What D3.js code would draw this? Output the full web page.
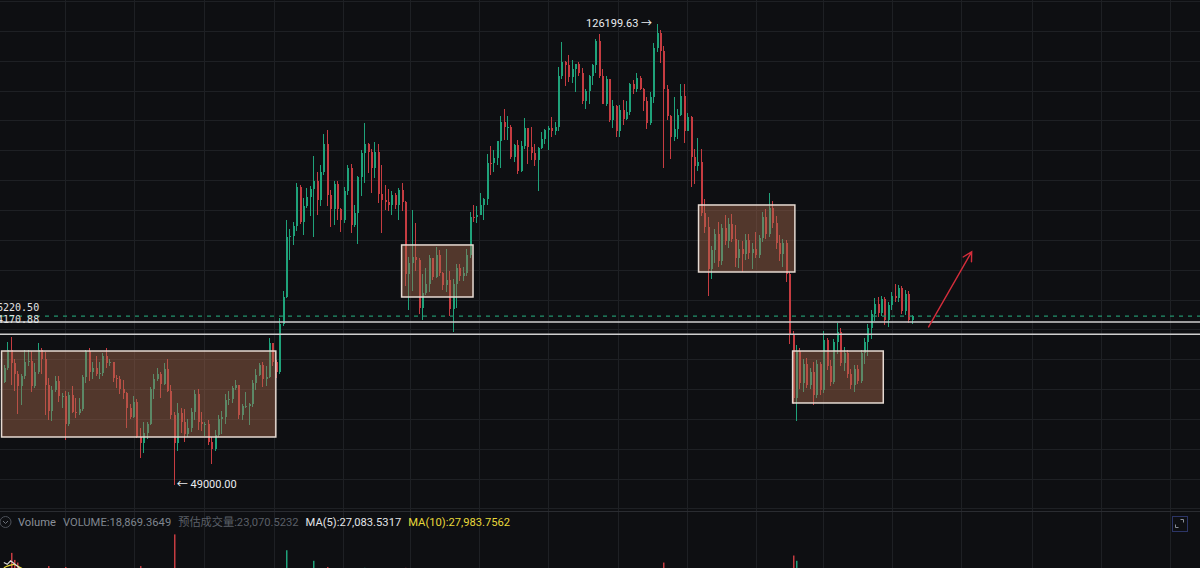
<!DOCTYPE html>
<html><head><meta charset="utf-8">
<script src="https://cdn.jsdelivr.net/npm/d3@7"></script>
<style>html,body{margin:0;padding:0;background:#0e0f12;overflow:hidden}</style>
</head><body><svg id="c" width="1200" height="568"></svg>
<script>
// ---------- DATA (prices in thousand USD, 3-day candles) ----------
const startDate = "2024-03-07";
const periodDays = 3;
const firstOpen = 66.1;
const closes = [
68.5,71.5,69.4,67.6,65.5,67.2,69.5,69.7,65.5,67.8,
71.6,70.0,65.7,61.3,64.9,66.4,63.8,63.9,59.1,64.0,
61.2,61.0,61.6,67.0,71.4,67.9,68.5,67.6,67.7,70.6,
69.3,69.5,66.8,66.7,65.0,64.3,61.8,60.3,62.9,57.0,
55.9,57.7,59.2,65.0,66.7,67.6,65.8,68.3,64.6,60.7,
56.0,60.9,59.4,57.5,58.4,61.2,64.2,59.5,59.1,59.1,
56.2,54.9,57.3,60.0,60.3,63.2,63.3,65.2,65.6,60.6,
62.1,62.1,62.5,66.0,67.4,69.0,66.7,67.0,72.7,69.5,
67.8,75.9,80.4,90.5,90.6,92.3,98.9,93.0,95.6,97.2,
98.6,99.9,96.6,101.4,106.1,97.5,95.1,99.4,95.2,93.4,
98.1,102.1,92.5,94.5,100.5,104.5,106.1,104.7,102.1,104.7,
97.7,96.6,96.4,95.8,97.5,95.8,98.3,96.3,84.3,86.1,
87.2,86.7,78.5,81.1,82.6,86.9,83.8,87.4,84.4,82.5,
83.2,78.4,82.6,85.3,84.0,84.5,87.5,93.9,93.8,94.2,
95.9,96.8,102.9,102.8,103.7,106.5,109.7,108.9,108.9,103.9,
105.9,101.6,105.8,108.7,105.5,104.6,103.3,105.4,106.9,108.4,
108.8,108.2,108.9,117.5,119.8,119.3,117.3,118.6,119.4,117.9,
113.3,115.0,117.5,119.3,123.3,117.4,112.8,116.9,110.1,112.5,
108.2,111.7,110.2,111.5,116.1,115.3,117.1,115.2,113.3,109.6,
114.0,122.2,124.7,121.7,115.2,110.7,107.2,108.5,111.0,114.1,
108.3,110.6,103.9,102.3,103.0,94.5,92.2,85.1,88.3,90.9,
86.4,92.0,89.8,92.6,90.2,86.9,88.5,87.6,89.9,87.8,
88.4,87.5,90.3,93.8,91.0,95.4,92.9,89.4,87.6,89.5,
84.2,74.0,63.5,71.4,66.0,69.2,65.6,67.9,64.0,69.2,
64.8,73.2,68.8,66.2,72.8,74.6,69.4,71.0,67.5,65.6,
68.4,66.4,71.0,72.9,75.2,77.6,79.3,77.8,80.1,76.6,
79.0,80.6,80.2,82.0,78.0,81.0,76.6,77.2];
const highs = [
69.0,72.9,73.8,70.0,68.1,67.6,71.5,71.6,71.4,69.3,
72.7,71.8,71.2,66.9,65.5,67.2,67.1,64.4,64.7,64.5,
65.5,63.5,63.5,67.4,71.5,71.9,69.5,70.6,69.5,71.0,
71.9,70.0,69.6,67.3,67.2,66.5,64.5,62.5,63.8,63.3,
58.5,59.4,59.5,65.4,67.5,68.5,67.8,69.4,70.1,65.6,
61.1,62.7,61.8,61.6,60.0,61.8,64.9,65.0,61.2,59.5,
59.8,56.9,58.1,60.6,61.3,64.1,64.7,65.5,66.5,65.6,
62.5,64.5,62.6,66.5,68.4,69.4,69.5,68.8,73.6,72.7,
69.9,76.9,81.5,93.3,91.8,93.0,99.6,99.2,97.0,98.7,
99.0,104.0,101.4,102.5,107.8,108.4,98.4,99.9,99.9,95.4,
98.9,102.5,102.7,95.8,100.7,105.0,109.6,106.3,105.3,106.4,
106.0,102.5,99.2,98.5,98.1,97.9,98.7,99.5,96.5,87.1,
95.0,92.8,86.9,84.3,85.3,87.4,87.0,88.8,88.3,84.6,
88.5,84.7,83.5,85.9,86.0,85.5,88.5,94.7,95.8,95.6,
97.9,97.0,104.3,105.8,105.0,106.6,110.8,112.0,110.7,109.3,
106.0,106.8,106.5,110.4,108.8,108.9,106.0,105.6,108.1,108.5,
109.0,110.5,109.7,118.9,123.2,120.0,120.9,120.2,119.5,119.8,
118.8,115.3,117.7,119.4,123.7,124.5,118.6,117.4,117.0,113.5,
112.6,112.6,113.4,113.3,116.3,116.8,117.9,117.5,115.4,113.9,
114.8,122.9,126.19963,125.1,122.5,116.0,111.0,114.0,111.9,116.1,
116.1,111.2,110.8,105.3,107.0,105.3,96.8,93.8,89.0,91.8,
93.0,92.6,94.1,93.6,94.3,92.5,90.0,89.8,90.9,91.0,
89.4,91.3,90.8,94.6,95.2,97.8,96.5,94.0,90.8,90.2,
90.0,84.6,74.8,72.3,71.8,70.0,70.2,68.6,69.6,69.9,
69.5,74.7,73.6,69.8,73.4,76.0,75.2,72.0,71.5,68.3,
69.0,69.1,71.6,73.6,75.9,78.2,80.2,80.5,80.6,80.5,
79.5,81.2,82.6,82.5,82.2,81.6,81.4,77.4];
const lows = [
66.0,68.2,65.6,64.6,60.8,62.3,66.6,68.9,64.5,65.1,
67.5,67.5,60.7,59.8,59.6,64.5,62.8,61.8,56.5,58.8,
60.9,60.2,60.7,61.3,66.0,66.3,66.6,67.1,66.7,67.2,
68.5,68.9,66.1,65.1,64.1,63.4,58.4,60.0,60.2,56.8,
53.5,54.3,56.6,59.0,63.3,66.4,63.5,65.7,64.5,59.9,
49.0,54.6,57.6,56.1,57.0,57.8,59.8,58.1,57.9,57.2,
55.6,52.5,54.6,56.9,57.5,59.2,62.4,62.7,64.9,60.0,
59.8,61.9,58.9,62.0,64.8,67.1,65.3,65.5,66.8,68.8,
66.8,67.5,75.6,80.2,86.6,89.2,91.5,92.6,90.8,95.4,
94.0,90.5,94.2,95.7,100.8,95.6,92.2,92.5,93.3,91.3,
92.8,97.5,91.2,92.2,89.3,97.3,99.5,101.2,97.8,100.3,
96.2,91.2,95.0,94.8,94.1,95.2,93.4,94.8,82.3,78.2,
81.4,84.7,77.6,76.6,80.8,81.2,83.2,83.6,83.9,81.6,
81.2,77.2,74.5,78.5,83.1,83.1,84.0,87.0,93.0,92.9,
94.1,93.4,95.8,100.8,101.4,102.6,102.0,106.7,106.8,103.6,
103.1,101.1,101.4,105.3,102.7,103.4,102.3,98.2,105.2,106.1,
105.1,107.3,107.5,108.3,116.9,115.7,116.5,116.2,114.7,117.4,
112.7,111.9,112.7,115.9,118.0,117.2,112.7,112.4,109.7,108.7,
107.3,107.3,109.3,110.0,111.0,114.4,114.8,115.1,111.6,108.6,
109.3,113.0,121.5,119.7,102.0,110.0,103.5,106.6,106.9,110.8,
106.3,108.2,98.9,99.3,101.5,94.0,91.2,80.6,83.5,86.2,
85.5,85.8,89.1,88.6,89.6,85.4,85.2,84.6,86.7,86.8,
85.1,86.9,87.0,89.7,90.2,90.5,92.0,88.5,86.5,85.4,
83.0,72.5,62.5,59.7,65.0,64.5,65.2,65.0,62.4,63.5,
64.0,64.3,68.2,65.5,65.8,70.8,68.8,68.0,66.8,65.0,
64.5,65.8,66.0,69.2,70.6,73.4,76.4,77.0,77.2,75.8,
75.4,78.3,79.5,79.6,77.5,77.4,76.0,75.9];
// visible volume spikes (candle index, volume in thousand BTC)
const volIdx = [2,3,4,13,18,40,50,83,91,95,106,118,194,232,233];
const volVal = [99,91,88,84,83,84,120,102,90,83,82,82,88,96,90];
const volMA5 = [88,86,90,87,84,80,77];
const volMA10 = [82,84,85,86,84,82,80];
// drawn annotations
const priceLines = [76220.50, 74170.88];
const boxFrom = ["2024-03-06","2025-02-22","2025-11-11","2026-02-02"];
const boxTo   = ["2024-11-03","2025-04-26","2026-02-04","2026-04-23"];
const boxTop  = [71.37, 89.14, 95.84, 71.37];
const boxBottom = [56.96, 80.42, 84.61, 62.66];
const arrowDates = ["2026-06-02","2026-07-10"];
const arrowPrices = [75.4, 88.0];
const legendTexts = ["Volume","VOLUME:18,869.3649","预估成交量:23,070.5232","MA(5):27,083.5317","MA(10):27,983.7562"];

// ---------- CHART ----------
const parse = d3.utcParse("%Y-%m-%d");
const svg = d3.select("#c");
const W = 1200, H = 568, mainBottom = 511, volTop = 512;
const FONT = "Roboto, 'Noto Sans CJK SC', sans-serif";
const UP = "#1fa27a", DOWN = "#c63c41";

const x = d3.scaleUtc().domain([parse("2024-03-13"), parse("2027-03-13")]).range([9.5, 9.5 + 1.1333 * 1095]);
const y = d3.scaleLinear().domain([49.0, 126.2]).range([484.5, 23.8]);
const yVol = d3.scaleLinear().domain([0, 125]).range([640, 530]);

const start = parse(startDate);
const candles = closes.map((c, i) => ({
  date: d3.utcDay.offset(start, periodDays * i + 1),
  open: i ? closes[i - 1] : firstOpen, close: c, high: highs[i], low: lows[i]
}));

svg.append("rect").attr("width", W).attr("height", H).attr("fill", "#0e0f12");

const defs = svg.append("defs");
defs.append("clipPath").attr("id", "mainClip").append("rect").attr("x", 0).attr("y", 0).attr("width", W).attr("height", mainBottom);
defs.append("clipPath").attr("id", "volClip").append("rect").attr("x", 0).attr("y", volTop).attr("width", W).attr("height", H - volTop);

// grid
const grid = svg.append("g").attr("stroke", "#1e2024").attr("stroke-width", 1).attr("shape-rendering", "crispEdges");
x.ticks(d3.utcMonth.every(2)).forEach(t => {
  const gx = Math.round(x(t)) + 0.5;
  grid.append("line").attr("x1", gx).attr("x2", gx).attr("y1", 0).attr("y2", H);
});
d3.range(0, 140, 5).forEach(p => {
  const gy = y(p);
  if (gy >= 0 && gy <= mainBottom - 1) {
    const yy = Math.round(gy) + 0.5;
    grid.append("line").attr("x1", 0).attr("x2", W).attr("y1", yy).attr("y2", yy);
  }
});
svg.append("line").attr("x1", 0).attr("x2", W).attr("y1", 511.5).attr("y2", 511.5)
  .attr("stroke", "#2a2c31").attr("shape-rendering", "crispEdges");

// candles
const main = svg.append("g").attr("clip-path", "url(#mainClip)");
const cg = main.append("g").attr("shape-rendering", "crispEdges");
candles.forEach(d => {
  const col = d.close >= d.open ? UP : DOWN;
  const cx = Math.round(x(d.date));
  cg.append("line").attr("x1", cx + 0.5).attr("x2", cx + 0.5)
    .attr("y1", y(d.high)).attr("y2", y(d.low)).attr("stroke", col).attr("stroke-width", 1);
  const yt = y(Math.max(d.open, d.close)), yb = y(Math.min(d.open, d.close));
  cg.append("rect").attr("x", cx - 0.5).attr("width", 2)
    .attr("y", yt).attr("height", Math.max(1, yb - yt)).attr("fill", col);
});

// boxes
boxFrom.forEach((f, i) => {
  const x0 = x(parse(f)), x1 = x(parse(boxTo[i]));
  const y0 = y(boxTop[i]), y1 = y(boxBottom[i]);
  main.append("rect").attr("x", x0).attr("y", y0).attr("width", x1 - x0).attr("height", y1 - y0)
    .attr("fill", "rgba(166,105,77,0.45)").attr("stroke", "#e6dad2").attr("stroke-width", 1.5);
});

// price lines
const last = candles[candles.length - 1];
main.append("line").attr("x1", 0).attr("x2", W).attr("y1", y(last.close)).attr("y2", y(last.close))
  .attr("stroke", "#22936c").attr("stroke-width", 1.3).attr("stroke-dasharray", "4 5");
priceLines.forEach(p => {
  const py = y(p / 1000);
  main.append("line").attr("x1", 0).attr("x2", W).attr("y1", py).attr("y2", py)
    .attr("stroke", "#cfcfcf").attr("stroke-width", 1.6);
  main.append("text").attr("x", -9).attr("y", py - 11).text(d3.format(".2f")(p))
    .attr("fill", "#e4e4e4").attr("font-family", "'DejaVu Sans Mono', monospace").attr("font-size", 10);
});

// arrow
const ax0 = x(parse(arrowDates[0])), ay0 = y(arrowPrices[0]);
const ax1 = x(parse(arrowDates[1])), ay1 = y(arrowPrices[1]);
const ang = Math.atan2(ay1 - ay0, ax1 - ax0), hl = 10;
const ah = [ang + Math.PI - 0.5, ang + Math.PI + 0.5].map(a => [ax1 + hl * Math.cos(a), ay1 + hl * Math.sin(a)]);
main.append("path")
  .attr("d", `M${ax0},${ay0}L${ax1},${ay1}M${ah[0][0]},${ah[0][1]}L${ax1},${ay1}L${ah[1][0]},${ah[1][1]}`)
  .attr("stroke", "#d42d3b").attr("stroke-width", 1.4).attr("fill", "none").attr("stroke-linecap", "round");

// high / low labels
const hiIdx = d3.maxIndex(candles, d => d.high), loIdx = d3.minIndex(candles, d => d.low);
const hi = candles[hiIdx], lo = candles[loIdx];
main.append("text").attr("x", x(hi.date) - 4.5).attr("y", y(hi.high) + 3.5).attr("text-anchor", "end")
  .text(d3.format(".2f")(hi.high * 1000) + " →").attr("fill", "#eaecef").attr("font-family", FONT).attr("font-size", 11);
main.append("text").attr("x", x(lo.date) + 3).attr("y", y(lo.low) + 3).attr("text-anchor", "start")
  .text("← " + d3.format(".2f")(lo.low * 1000)).attr("fill", "#eaecef").attr("font-family", FONT).attr("font-size", 11);

// volume pane
const vol = svg.append("g").attr("clip-path", "url(#volClip)");
volIdx.forEach((ci, k) => {
  const d = candles[ci];
  const col = d.close >= d.open ? UP : DOWN;
  const cx = Math.round(x(d.date));
  vol.append("rect").attr("x", cx).attr("width", 1.5).attr("y", yVol(volVal[k]))
    .attr("height", yVol(0) - yVol(volVal[k])).attr("fill", col);
});
const maLine = d3.line().x((v, i) => x(candles[i].date)).y(v => yVol(v));
vol.append("path").attr("d", maLine(volMA10)).attr("stroke", "#e8d83a").attr("fill", "none").attr("stroke-width", 1.2);
vol.append("path").attr("d", maLine(volMA5)).attr("stroke", "#d8d8d8").attr("fill", "none").attr("stroke-width", 1.2);

// legend row
const lg = svg.append("g");
lg.append("circle").attr("cx", 5.5).attr("cy", 522).attr("r", 5.5).attr("fill", "none").attr("stroke", "#4c5058");
lg.append("path").attr("d", "M3,521 L5.5,523.5 L8,521").attr("fill", "none").attr("stroke", "#6c717a").attr("stroke-width", 1);
const legendColors = ["#8a9099", "#7f858e", "#5a5f67", "#e2e4e7", "#e8d83a"];
let lx = 18;
legendTexts.forEach((t, i) => {
  const el = lg.append("text").attr("x", lx).attr("y", 526).text(t)
    .attr("fill", legendColors[i]).attr("font-family", FONT).attr("font-size", 11.2);
  lx += el.node().getComputedTextLength() + 7;
});

// expand icon
const ex = svg.append("g").attr("fill", "none");
ex.append("rect").attr("x", 1172.5).attr("y", 516.5).attr("width", 15).attr("height", 15).attr("stroke", "#2c3566");
ex.append("path").attr("d", "M1180.5,519.5 h3 v3 M1175.5,524.5 v3 h3").attr("stroke", "#8a8f98");
</script></body></html>
